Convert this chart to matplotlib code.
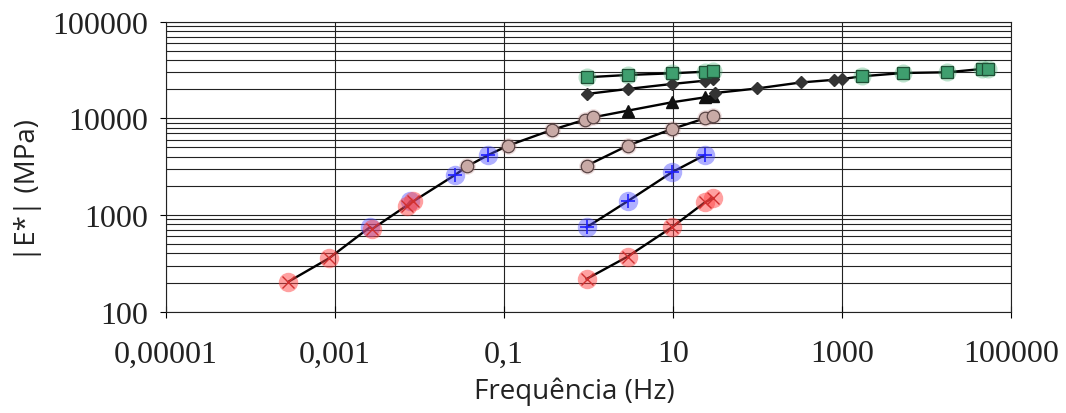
import numpy as np
import matplotlib
matplotlib.use('Agg')
import matplotlib.pyplot as plt
from matplotlib.ticker import NullLocator, LogLocator, NullFormatter

# frequencias dos ensaios (Hz)
freq_raw = [0.95, 2.9, 9.7, 23.9, 29.7]

# curva mestra (frequencia reduzida)
red_m_f = [2.8e-4, 8.5e-4, 2.76e-3, 7.05e-3, 8.46e-3]
red_m_e = [204, 357, 717, 1250, 1387]
blue_m_f = [2.6e-3, 7.8e-3, 0.0263, 0.0652]
blue_m_e = [750, 1390, 2594, 4178]
brown_m_f = [0.0368, 0.111, 0.366, 0.91, 1.14]
brown_m_e = [3190, 5210, 7580, 9690, 10260]
tri_f = [2.9, 9.7, 23.9, 29.7]
tri_e = [12000, 14660, 16500, 17150]
diam_m_f = [31.4, 98.6, 324, 811, 1009]
diam_m_e = [18300, 20370, 23500, 25060, 25550]
green_m_f = [1726, 5312, 17620, 44980, 53850]
green_m_e = [27240, 29460, 29970, 32400, 32400]

# ensaios sem deslocamento
red_r = [218, 371, 747, 1355, 1490]
blue_r = [747, 1387, 2767, 4178]
brown_r = [3240, 5212, 7762, 10000, 10500]
diam_r = [17870, 20130, 22680, 24520, 25300]
green_r = [26600, 28100, 29250, 30380, 31140]

xticks = [1e-5, 1e-3, 1e-1, 10, 1e3, 1e5]
xlabels = ['0,00001', '0,001', '0,1', '10', '1000', '100000']
yticks = [100, 1000, 10000, 100000]
ylabels = ['100', '1000', '10000', '100000']

fig = plt.figure(figsize=(10.66, 4.14), dpi=100)
ax = fig.add_axes([0.1557, 0.2447, 0.7927, 0.7005])
ax.set_xscale('log')
ax.set_yscale('log')
ax.set_xlim(1e-5, 1e5)
ax.set_ylim(100, 100000)

# linhas
mf = red_m_f + blue_m_f + brown_m_f + tri_f + diam_m_f + green_m_f
me = red_m_e + blue_m_e + brown_m_e + tri_e + diam_m_e + green_m_e
order = np.argsort(mf)
ax.plot(np.array(mf)[order], np.array(me)[order], color='black', lw=1.7, zorder=3)
for vals in [red_r, blue_r, brown_r, diam_r, green_r]:
    ax.plot(freq_raw[:len(vals)], vals, color='black', lw=1.7, zorder=3)

# brilho atras dos marcadores
glow = dict(ls='none', marker='o', mec='none', zorder=4)
ax.plot(blue_m_f + freq_raw[:4], blue_m_e + blue_r, ms=14, mfc='#5050ff', alpha=0.45, **glow)
ax.plot(red_m_f + freq_raw, red_m_e + red_r, ms=14, mfc='#ff4545', alpha=0.5, **glow)
ax.plot(brown_m_f + freq_raw, brown_m_e + brown_r, ms=12, mfc='#c08080', alpha=0.25, **glow)
ax.plot(green_m_f + freq_raw, green_m_e + green_r, ms=13, mfc='#40b070', alpha=0.35, **glow)

# marcadores
ax.plot(blue_m_f[2:] + freq_raw[:4], blue_m_e[2:] + blue_r, ls='none', marker='+', ms=10,
        mew=1.2, color='#2020ff', zorder=5)
ax.plot(red_m_f + freq_raw, red_m_e + red_r, ls='none', marker='x', ms=9,
        mew=1.0, color='#d03030', zorder=6)
ax.plot(brown_m_f + freq_raw, brown_m_e + brown_r, ls='none', marker='o', ms=9,
        mfc='#c9aaa6', mec='#5a4545', mew=0.9, zorder=5)
ax.plot(tri_f, tri_e, ls='none', marker='^', ms=8, color='#111111', zorder=5)
ax.plot(diam_m_f + freq_raw, diam_m_e + diam_r, ls='none', marker='D', ms=6,
        color='#333333', zorder=5)
ax.plot(green_m_f + freq_raw, green_m_e + green_r, ls='none', marker='s', ms=8,
        mfc='#3f9f6f', mec='#1f4f35', mew=0.9, zorder=5)

# eixos e grade
ax.set_xticks(xticks)
ax.set_xticklabels(xlabels)
ax.xaxis.set_minor_locator(NullLocator())
ax.set_yticks(yticks)
ax.set_yticklabels(ylabels)
ax.yaxis.set_minor_locator(LogLocator(base=10, subs=np.arange(2, 10)))
ax.yaxis.set_minor_formatter(NullFormatter())
ax.grid(True, which='major', axis='both', color='#222222', lw=0.8)
ax.grid(True, which='minor', axis='y', color='#222222', lw=0.8)
ax.tick_params(axis='x', which='major', direction='inout', length=8, width=0.8, pad=16)
ax.tick_params(axis='y', which='major', direction='out', length=4, width=0.8, pad=9)
ax.tick_params(axis='y', which='minor', length=0)
for lab in ax.get_xticklabels() + ax.get_yticklabels():
    lab.set_fontfamily('Liberation Serif')
    lab.set_fontsize(23)
    lab.set_color('#222222')
for s in ax.spines.values():
    s.set_color('#222222')
    s.set_linewidth(0.8)

fig.text(0.539, 0.053, 'Frequência (Hz)', family='Open Sans', fontsize=20,
         ha='center', va='center', color='#222222')
fig.text(0.026, 0.54, '|E*| (MPa)', family='Open Sans', fontsize=20,
         ha='center', va='center', rotation=90, color='#222222')

fig.savefig('out.png', dpi=100)
